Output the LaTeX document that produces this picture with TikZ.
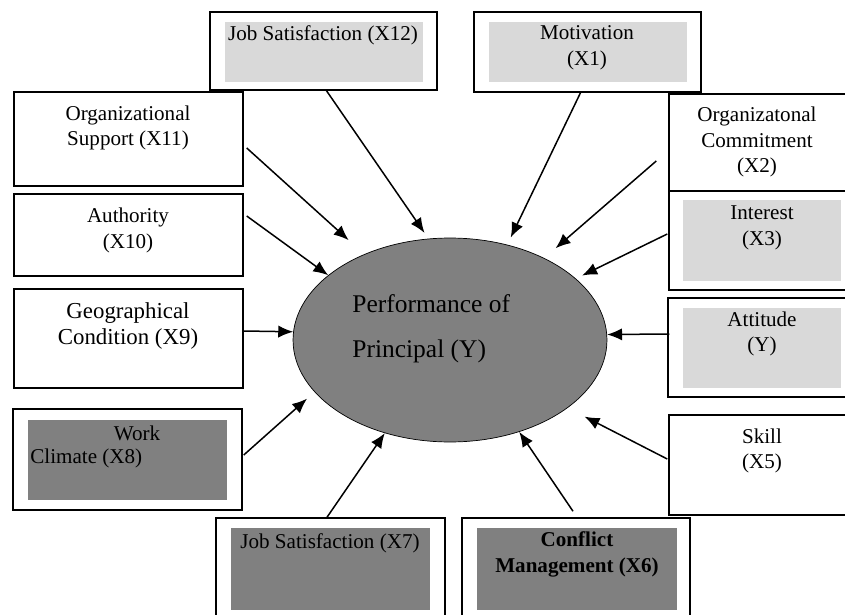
\documentclass[tikz,border=0pt]{standalone}
\usepackage{fontspec}
\setmainfont{Liberation Serif}
\usetikzlibrary{positioning,shapes.geometric,arrows.meta}
\definecolor{lightfill}{gray}{0.85}
\definecolor{darkfill}{gray}{0.5}

\begin{document}
\begin{tikzpicture}[x=0.02cm,y=-0.02cm]
\tikzstyle{outer}=[draw,line width=.3mm,inner sep=0pt]
\tikzstyle{inner}=[inner sep=0pt]
\tikzstyle{txt}=[align=center,inner sep=0pt,font=\fontsize{12}{14.7}\selectfont]
\tikzstyle{arr}=[-{Latex[length=8.5pt,width=7pt]},line width=.3mm]
\useasboundingbox (0,0) rectangle (845,615);
    % centre
    \node[ellipse,draw,fill=darkfill,inner sep=0pt,minimum width=6.28cm,minimum height=4.08cm] (perf) at (450,340) {};
    \node[anchor=west,align=left,inner sep=0pt,font=\fontsize{14.5}{25.5}\selectfont] (perft) at (352,328.5) {Performance of\\Principal (Y)};
    % boxes, left and top
    \node[outer,minimum width=4.54cm,minimum height=1.56cm] (x12) at (323.5,51) {};
    \node[inner,fill=lightfill,minimum width=3.96cm,minimum height=1.2cm] (x12in) at (324,52) {};
    \node[txt] (x12t) at (323,35) {Job Satisfaction (X12)};
    \node[outer,minimum width=4.54cm,minimum height=1.6cm] (x1) at (587.5,52) {};
    \node[inner,fill=lightfill,minimum width=3.96cm,minimum height=1.2cm] (x1in) at (588,52) {};
    \node[txt] (x1t) at (587,48) {Motivation\\(X1)};
    \node[outer,minimum width=4.58cm,minimum height=1.88cm] (x11) at (128.5,139) {};
    \node[txt] (x11t) at (128,128) {Organizational\\Support (X11)};
    \node[outer,minimum width=4.58cm,minimum height=1.64cm] (x10) at (128.5,235) {};
    \node[txt] (x10t) at (128,230.5) {Authority\\(X10)};
    \node[outer,minimum width=4.58cm,minimum height=1.98cm] (x9) at (128.5,338.5) {};
    \node[txt,font=\fontsize{13}{14.7}\selectfont] (x9t) at (128,326) {Geographical\\Condition (X9)};
    \node[outer,minimum width=4.58cm,minimum height=2.02cm] (x8) at (127.5,459.5) {};
    \node[inner,fill=darkfill,minimum width=3.98cm,minimum height=1.6cm] (x8in) at (127.5,460) {};
    \node[txt] (x8a) at (137,433) {Work};
    \node[txt,anchor=west] (x8b) at (30,458) {Climate (X8)};
    % boxes, right
    \node[outer,minimum width=3.72cm,minimum height=1.94cm] (x2) at (762,142.5) {};
    \node[txt] (x2t) at (757,142) {Organizatonal\\Commitment\\(X2)};
    \node[outer,minimum width=3.72cm,minimum height=1.98cm] (x3) at (762,240.5) {};
    \node[inner,fill=lightfill,minimum width=3.16cm,minimum height=1.62cm] (x3in) at (762,240.5) {};
    \node[txt] (x3t) at (762,227.5) {Interest\\(X3)};
    \node[outer,minimum width=3.74cm,minimum height=1.98cm] (x4) at (761.5,347.5) {};
    \node[inner,fill=lightfill,minimum width=3.16cm,minimum height=1.6cm] (x4in) at (762,348) {};
    \node[txt] (x4t) at (762,334) {Attitude\\(Y)};
    \node[outer,minimum width=3.72cm,minimum height=2cm] (x5) at (762,465) {};
    \node[txt] (x5t) at (762,451) {Skill\\(X5)};
    % boxes, bottom
    \node[outer,minimum width=4.58cm,minimum height=2.14cm] (x7) at (330.5,571.5) {};
    \node[inner,fill=darkfill,minimum width=3.98cm,minimum height=1.64cm] (x7in) at (330.5,569) {};
    \node[txt] (x7t) at (330,543) {Job Satisfaction (X7)};
    \node[outer,minimum width=4.56cm,minimum height=2.14cm] (x6) at (576,571.5) {};
    \node[inner,fill=darkfill,minimum width=4cm,minimum height=1.64cm] (x6in) at (577,569) {};
    \node[txt,font=\fontsize{12}{14.7}\selectfont\bfseries] (x6t) at (577,554) {Conflict\\Management (X6)};
    % arrows
    \draw[arr,shorten >=0.14cm] ([xshift=0.06cm]x12.south) to (perf.102);
    \draw[arr,shorten >=0.16cm] ([xshift=-0.14cm]x1.south) to (perf.59);
    \draw[arr,shorten >=0.42cm] ([xshift=0.06cm,yshift=-0.18cm]x11.east) to (perf.135);
    \draw[arr,shorten >=0.3cm] ([xshift=-0.24cm,yshift=-0.37cm]x2.west) to (perf.41);
    \draw[arr] ([xshift=0.06cm,yshift=0.38cm]x10.east) to (perf.152);
    \draw[arr,shorten >=0.14cm] ([xshift=-0.02cm,yshift=0.13cm]x3.west) to (perf.26);
    \draw[arr] ([yshift=0.15cm]x9.east) to (perf.177);
    \draw[arr] ([xshift=0.04cm,yshift=0.27cm]x4.west) to (perf.2);
    \draw[arr,shorten >=0.2cm] ([xshift=0.02cm,yshift=0.09cm]x8.east) to (perf.201);
    \draw[arr,shorten >=0.38cm] ([xshift=-0.02cm,yshift=0.12cm]x5.west) to (perf.-30);
    \draw[arr] ([xshift=-0.07cm]x7.north) to (perf.235);
    \draw[arr] ([xshift=-0.06cm,yshift=0.12cm]x6.north) to (perf.-53);
  \end{tikzpicture}
\end{document}
